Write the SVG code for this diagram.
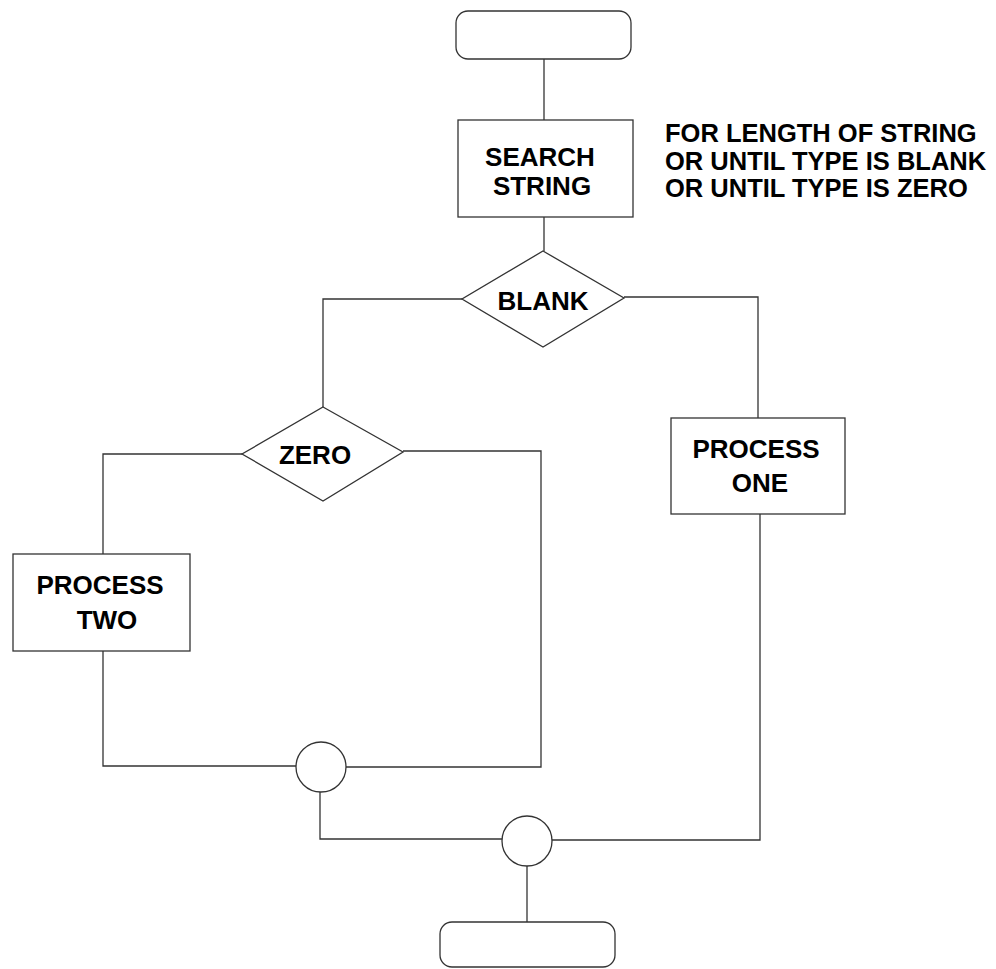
<svg xmlns="http://www.w3.org/2000/svg" width="996" height="969" viewBox="0 0 996 969">
  <style>
    .shape { fill: #ffffff; stroke: #333333; stroke-width: 1.3; }
    .wire { fill: none; stroke: #333333; stroke-width: 1.3; }
    .lbl { font-family: "Liberation Sans", Arial, sans-serif; font-weight: bold; font-size: 26px; fill: #000000; }
    .note { font-size: 25.5px; }
    .mid { text-anchor: middle; }
  </style>
  <rect width="996" height="969" fill="#ffffff"/>

  <!-- connectors -->
  <g id="connectors">
    <path class="wire" d="M544 59 V120"/>
    <path class="wire" d="M544 217 V251"/>
    <path class="wire" d="M462 299 H323 V407"/>
    <path class="wire" d="M624 297 H758 V418"/>
    <path class="wire" d="M242 454 H103 V554"/>
    <path class="wire" d="M403 451 H541 V767 H346"/>
    <path class="wire" d="M103 651 V766 H296"/>
    <path class="wire" d="M320 792 V839 H502"/>
    <path class="wire" d="M760 514 V840 H552"/>
    <path class="wire" d="M527 866 V922"/>
  </g>

  <!-- start terminal -->
  <g id="start">
    <rect class="shape" x="456" y="11" width="175" height="48" rx="12"/>
  </g>

  <!-- search step -->
  <g id="search">
    <rect class="shape" x="458" y="120" width="175" height="97"/>
    <text class="lbl mid" x="540" y="166">SEARCH</text>
    <text class="lbl mid" x="542" y="195">STRING</text>
  </g>

  <!-- loop condition note -->
  <g id="note">
    <text class="lbl note" x="665" y="142">FOR LENGTH OF STRING</text>
    <text class="lbl note" x="665" y="169.5">OR UNTIL TYPE IS BLANK</text>
    <text class="lbl note" x="665" y="197">OR UNTIL TYPE IS ZERO</text>
  </g>

  <!-- blank decision -->
  <g id="blank">
    <polygon class="shape" points="543,251 624,298 543,347 462,299"/>
    <text class="lbl mid" x="543" y="310">BLANK</text>
  </g>

  <!-- zero decision -->
  <g id="zero">
    <polygon class="shape" points="323,407 403,452 323,501 242,454"/>
    <text class="lbl mid" x="315" y="464">ZERO</text>
  </g>

  <!-- process one -->
  <g id="process-one">
    <rect class="shape" x="671" y="418" width="174" height="96"/>
    <text class="lbl mid" x="756" y="458">PROCESS</text>
    <text class="lbl mid" x="760" y="492">ONE</text>
  </g>

  <!-- process two -->
  <g id="process-two">
    <rect class="shape" x="13" y="554" width="177" height="97"/>
    <text class="lbl mid" x="100" y="594">PROCESS</text>
    <text class="lbl mid" x="107" y="629">TWO</text>
  </g>

  <!-- junctions -->
  <g id="join-1">
    <circle class="shape" cx="321" cy="767" r="25"/>
  </g>
  <g id="join-2">
    <circle class="shape" cx="527" cy="841" r="25"/>
  </g>

  <!-- end terminal -->
  <g id="end">
    <rect class="shape" x="440" y="922" width="175" height="45" rx="12"/>
  </g>
</svg>
